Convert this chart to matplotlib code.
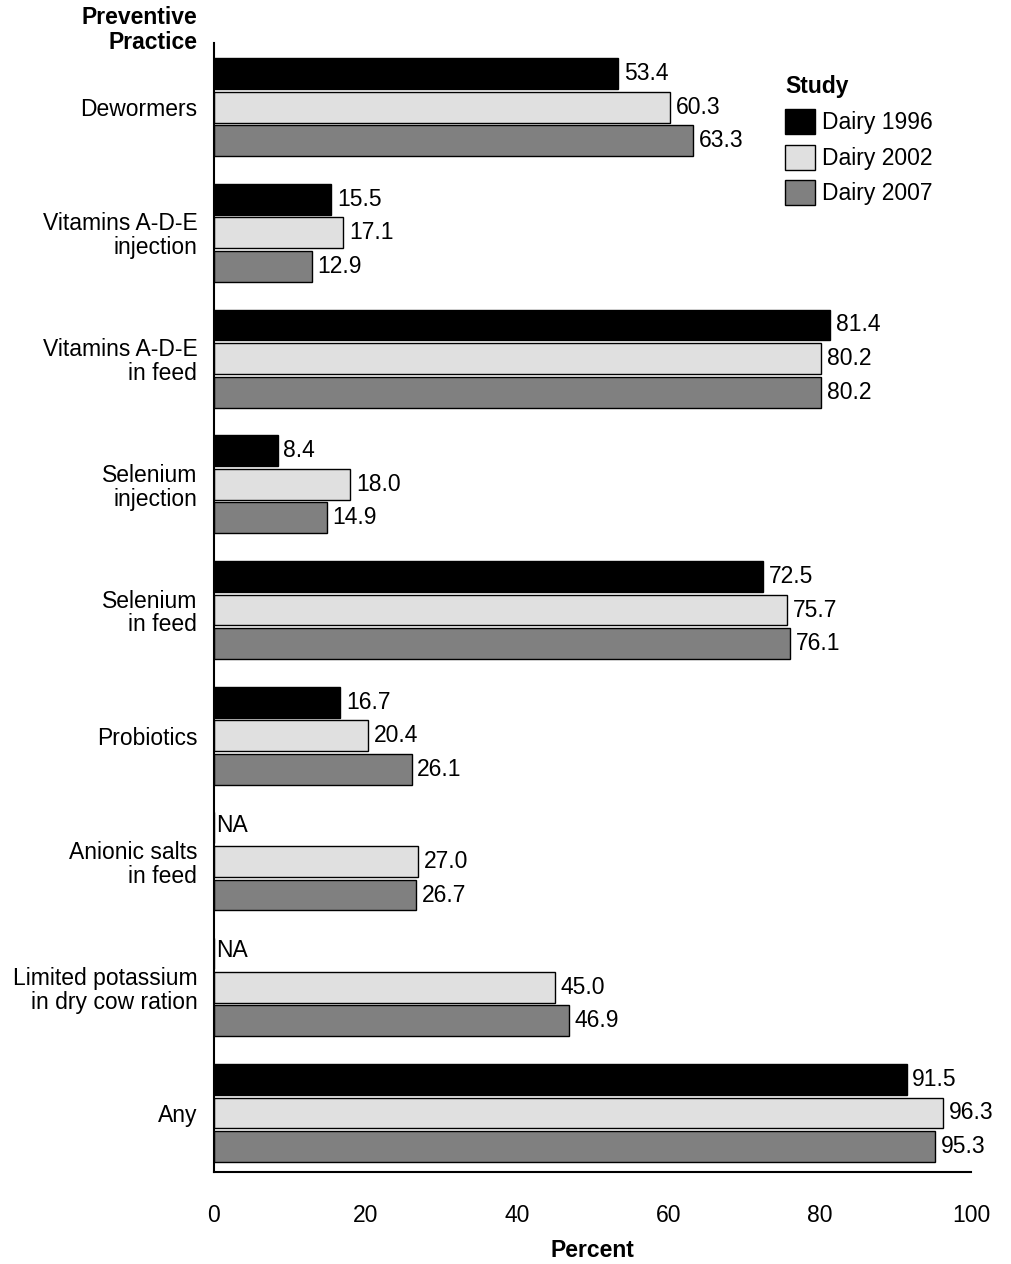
import numpy as np
import matplotlib
matplotlib.use("Agg")
import matplotlib.pyplot as plt

plt.rcParams["font.family"] = ["Liberation Sans", "DejaVu Sans"]

practices = ["Dewormers", "Vitamins A-D-E\ninjection", "Vitamins A-D-E\nin feed",
             "Selenium\ninjection", "Selenium\nin feed", "Probiotics",
             "Anionic salts\nin feed", "Limited potassium\nin dry cow ration", "Any"]
studies = ["Dairy 1996", "Dairy 2002", "Dairy 2007"]
dairy_1996 = [53.4, 15.5, 81.4, 8.4, 72.5, 16.7, np.nan, np.nan, 91.5]
dairy_2002 = [60.3, 17.1, 80.2, 18.0, 75.7, 20.4, 27.0, 45.0, 96.3]
dairy_2007 = [63.3, 12.9, 80.2, 14.9, 76.1, 26.1, 26.7, 46.9, 95.3]
xticks = [0, 20, 40, 60, 80, 100]

colors = ["#000000", "#e0e0e0", "#808080"]
fs = 16.5

fig = plt.figure(figsize=(10.11, 12.64), dpi=100)
ax = fig.add_axes([214/1011, 1 - 1172/1264, (971 - 214)/1011, (1172 - 43)/1264])

y = np.arange(len(practices))
step = 0.267
height = 0.245
for k, (vals, name) in enumerate(zip([dairy_1996, dairy_2002, dairy_2007], studies)):
    pos = y + (k - 1) * step
    ax.barh(pos, np.nan_to_num(vals), height=height, color=colors[k],
            edgecolor="black", linewidth=1, label=name)
    for p, v in zip(pos, vals):
        if np.isnan(v):
            ax.annotate("NA", (0, p), xytext=(1.5, 2), textcoords="offset points",
                        ha="left", va="center", fontsize=fs)
        else:
            ax.annotate(f"{v:.1f}", (v, p), xytext=(4, 0), textcoords="offset points",
                        ha="left", va="center", fontsize=fs)

ax.set_xlim(0, 100)
ax.set_ylim(8.47, -0.51)
ax.set_yticks(y)
ax.set_yticklabels(practices, fontsize=fs, ha="right", multialignment="right",
                   linespacing=1.05)
ax.set_xticks(xticks)
ax.set_xticklabels([str(t) for t in xticks], fontsize=fs)
ax.tick_params(axis="y", length=0, pad=12)
ax.tick_params(axis="x", length=0, pad=23)
ax.spines["top"].set_visible(False)
ax.spines["right"].set_visible(False)
ax.spines["left"].set_linewidth(1.5)
ax.spines["bottom"].set_linewidth(1.5)
ax.set_xlabel("Percent", fontsize=fs, fontweight="bold", labelpad=9)

fig.text(197/1011, 1 - 30/1264, "Preventive\nPractice", ha="right", va="center",
         multialignment="right", fontsize=fs, fontweight="bold", linespacing=1.1)

leg = ax.legend(loc="upper left", bbox_to_anchor=(785/1011, 1 - 75/1264),
                bbox_transform=fig.transFigure, frameon=False, fontsize=fs,
                title="Study", title_fontproperties={"weight": "bold", "size": fs},
                alignment="left", handlelength=1.3, handleheight=1.3,
                handletextpad=0.3, labelspacing=0.45, borderpad=0,
                borderaxespad=0)
leg._legend_box.sep = 8

fig.savefig("out.png", dpi=100)
